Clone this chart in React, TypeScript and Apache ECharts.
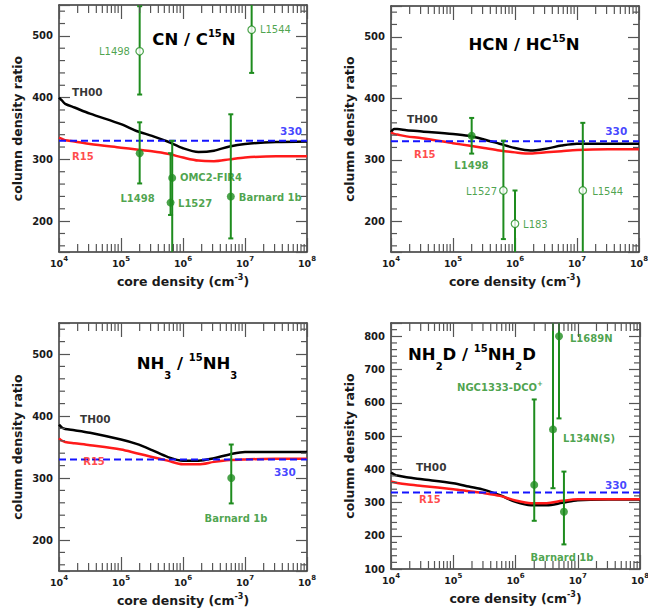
import React, { useEffect, useRef } from "react";
import * as echarts from "echarts";

const FONT = '"DejaVu Sans", "Liberation Sans", sans-serif';
const GREEN = "#1e8c1e";
const RED = "#ff1a1a";
const BLUE = "#1414ff";
const FRAME = "#333333";
const TICK = "#555555";
const TEXT = "#1a1a1a";

// ---- model curves: sample positions in log10(core density / cm^-3) ----
const curveLogN = [4, 4.05, 4.1, 4.25, 4.5, 5, 5.25, 5.5, 5.75, 6, 6.25, 6.5, 6.75, 7, 7.5, 8];

const cnTH00 = [400, 395, 390, 384, 374, 357, 346, 338, 329, 318, 312, 314, 321, 325, 328, 329];
const cnR15 = [335, 333, 331, 329, 325, 319, 316, 313, 309, 303, 298, 297, 300, 303, 305, 305];
const hcnTH00 = [345, 350, 350, 348, 346, 342, 339, 333, 326, 319, 315, 318, 323, 326, 326, 326];
const hcnR15 = [344, 342, 341, 338, 335, 327, 323, 319, 315, 312, 310, 312, 314, 316, 317, 317];
const nh3TH00 = [386, 381, 379, 377, 373, 362, 355, 345, 334, 328, 328, 332, 338, 342, 342, 342];
const nh3R15 = [364, 360, 358, 356, 353, 346, 340, 334, 328, 322, 322, 326, 329, 330, 331, 331];
const nh2dTH00 = [390, 385, 381, 376, 370, 358, 348, 338, 322, 302, 292, 292, 299, 307, 309, 309];
const nh2dR15 = [363, 361, 359, 355, 350, 340, 334, 328, 320, 306, 298, 298, 305, 310, 310, 310];

const refRatio = 330;

// ---- observations ----
const cnDensity = [2e5, 6.7e5, 6.3e5, 5.9e6, 2e5, 1.28e7];
const cnRatio = [310, 270, 230, 240, 475, 510];
const cnLow = [261, 130, 210, 172, 405, 440];
const cnHigh = [360, 330, 310, 373, 548, 600];
const cnOpen = [false, false, false, false, true, true];

const hcnDensity = [2e5, 6.5e5, 1e6, 1.24e7];
const hcnRatio = [339, 250, 196, 250];
const hcnLow = [310, 171, 100, 100];
const hcnHigh = [368, 331, 250, 360];
const hcnOpen = [false, true, true, true];

const nh3Density = [6e6];
const nh3Ratio = [300];
const nh3Low = [259];
const nh3High = [354];
const nh3Open = [false];

const nh2dDensity = [2e6, 4e6, 5e6, 6e6];
const nh2dRatio = [353, 520, 800, 272];
const nh2dLow = [245, 343, 553, 174];
const nh2dHigh = [610, 950, 1000, 393];
const nh2dOpen = [false, false, false, false];

// ---- text annotations (log10 n, ratio) ----
type Note = { t: string; x: number; y: number; a: string; k: string };
const cnNotes: Note[] = [
  { t: "L1498", x: 5.145, y: 474, a: "right", k: "obsN" },
  { t: "L1544", x: 7.24, y: 511, a: "left", k: "obsN" },
  { t: "L1498", x: 5.266, y: 237, a: "center", k: "obsB" },
  { t: "OMC2-FIR4", x: 5.95, y: 270, a: "left", k: "obsB" },
  { t: "L1527", x: 5.92, y: 229, a: "left", k: "obsB" },
  { t: "Barnard 1b", x: 6.9, y: 239, a: "left", k: "obsB" },
  { t: "TH00", x: 4.21, y: 409, a: "left", k: "th" },
  { t: "R15", x: 4.21, y: 304, a: "left", k: "r15" },
  { t: "330", x: 7.92, y: 346, a: "right", k: "ref" },
];
const hcnNotes: Note[] = [
  { t: "L1498", x: 5.298, y: 290, a: "center", k: "obsB" },
  { t: "L1527", x: 5.71, y: 249, a: "right", k: "obsN" },
  { t: "L183", x: 6.13, y: 195, a: "left", k: "obsN" },
  { t: "L1544", x: 7.245, y: 249, a: "left", k: "obsN" },
  { t: "TH00", x: 4.26, y: 366, a: "left", k: "th" },
  { t: "R15", x: 4.37, y: 309, a: "left", k: "r15" },
  { t: "330", x: 7.81, y: 347, a: "right", k: "ref" },
];
const nh3Notes: Note[] = [
  { t: "Barnard 1b", x: 6.855, y: 235, a: "center", k: "obsB" },
  { t: "TH00", x: 4.34, y: 395, a: "left", k: "th" },
  { t: "R15", x: 4.39, y: 327, a: "left", k: "r15" },
  { t: "330", x: 7.82, y: 310, a: "right", k: "ref" },
];
const nh2dNotes: Note[] = [
  { t: "{g|NGC1333-DCO}{q|+}", x: 5.751, y: 647, a: "center", k: "obsB" },
  { t: "L134N(S)", x: 6.763, y: 494, a: "left", k: "obsB" },
  { t: "L1689N", x: 6.875, y: 792, a: "left", k: "obsB" },
  { t: "Barnard 1b", x: 6.747, y: 136, a: "center", k: "obsB" },
  { t: "TH00", x: 4.4, y: 407, a: "left", k: "th" },
  { t: "R15", x: 4.45, y: 308, a: "left", k: "r15" },
  { t: "330", x: 7.79, y: 353, a: "right", k: "ref" },
];

// title pieces: [text, kind] with m = main, p = superscript, b = subscript
const titles: [string, string][][] = [
  [["CN / C", "m"], ["15", "p"], ["N", "m"]],
  [["HCN / HC", "m"], ["15", "p"], ["N", "m"]],
  [["NH", "m"], ["3", "b"], [" / ", "m"], ["15", "p"], ["NH", "m"], ["3", "b"]],
  [["NH", "m"], ["2", "b"], ["D / ", "m"], ["15", "p"], ["NH", "m"], ["2", "b"], ["D", "m"]],
];

const xMajor = [4, 8];
const xMinorFactors = [2, 3, 4, 5, 6, 7, 8, 9];

const panels = [
  { th: cnTH00, r: cnR15, d: cnDensity, v: cnRatio, lo: cnLow, hi: cnHigh, open: cnOpen, notes: cnNotes, yMin: 150, yMax: 550 },
  { th: hcnTH00, r: hcnR15, d: hcnDensity, v: hcnRatio, lo: hcnLow, hi: hcnHigh, open: hcnOpen, notes: hcnNotes, yMin: 150, yMax: 550 },
  { th: nh3TH00, r: nh3R15, d: nh3Density, v: nh3Ratio, lo: nh3Low, hi: nh3High, open: nh3Open, notes: nh3Notes, yMin: 150, yMax: 550 },
  { th: nh2dTH00, r: nh2dR15, d: nh2dDensity, v: nh2dRatio, lo: nh2dLow, hi: nh2dHigh, open: nh2dOpen, notes: nh2dNotes, yMin: 100, yMax: 840 },
];

const GRIDS = [
  { left: 59, top: 5, width: 248, height: 247 },
  { left: 391, top: 6, width: 248, height: 246 },
  { left: 59, top: 323, width: 248, height: 248 },
  { left: 391, top: 323, width: 249, height: 246 },
];
const TITLE_POS = [
  [194, 39],
  [524, 44],
  [187, 363],
  [472, 354],
];

const noteStyle: Record<string, any> = {
  obsB: { color: GREEN, fontWeight: "bold", fontSize: 10 },
  obsN: { color: GREEN, fontWeight: "normal", fontSize: 10 },
  th: { color: "#000", fontWeight: "bold", fontSize: 10.5 },
  r15: { color: RED, fontWeight: "bold", fontSize: 10 },
  ref: { color: BLUE, fontWeight: "bold", fontSize: 10.5 },
};

const TITLE_SIZE: Record<string, number> = { m: 16.5, p: 10, b: 10 };
const TITLE_DY: Record<string, number> = { m: 0, p: -6, b: 12 };

let measureCtx: CanvasRenderingContext2D | null = null;
function measure(text: string, size: number) {
  if (!measureCtx) measureCtx = document.createElement("canvas").getContext("2d");
  if (!measureCtx) return text.length * size * 0.7;
  measureCtx.font = `bold ${size}px "DejaVu Sans"`;
  return measureCtx.measureText(text).width;
}

function buildOption() {
  const grid: any[] = [];
  const xAxis: any[] = [];
  const yAxis: any[] = [];
  const series: any[] = [];
  const graphic: any[] = [];

  const xMinor: number[] = [];
  for (let e = xMajor[0]; e < xMajor[1]; e++) for (const f of xMinorFactors) xMinor.push(e + Math.log10(f));

  const nameRich = {
    m: { fontFamily: FONT, fontWeight: "bold", fontSize: 12.5, color: TEXT, lineHeight: 16 },
    s: { fontFamily: FONT, fontWeight: "bold", fontSize: 8, color: TEXT, lineHeight: 8, verticalAlign: "top" },
  };
  const tickRich = {
    b: { fontFamily: FONT, fontWeight: "bold", fontSize: 9.5, color: TEXT, lineHeight: 16 },
    s: { fontFamily: FONT, fontWeight: "bold", fontSize: 7, color: TEXT, lineHeight: 7, verticalAlign: "top" },
  };

  panels.forEach((p, i) => {
    grid.push({ ...GRIDS[i], containLabel: false, outerBoundsMode: "none", show: false });
    const axLine = { show: true, onZero: false, lineStyle: { color: FRAME, width: 1.5 } };
    const common = { min: 4, max: 8, interval: 1, gridIndex: i, type: "value", splitLine: { show: false } };
    xAxis.push({
      ...common,
      position: "bottom",
      axisLine: axLine,
      axisTick: { show: true, inside: true, length: 14, lineStyle: { color: TICK, width: 1.2 } },
      axisLabel: { margin: 3, formatter: (v: number) => `{b|10}{s|${v}}`, rich: tickRich },
      name: "{m|core density (cm}{s|-3}{m|)}",
      nameLocation: "middle",
      nameGap: 21,
      nameTextStyle: { rich: nameRich },
    });
    xAxis.push({
      ...common,
      position: "top",
      axisLine: axLine,
      axisTick: { show: true, inside: true, length: 14, lineStyle: { color: TICK, width: 1.2 } },
      axisLabel: { show: false },
    });
    const yCommon: any = {
      type: "value",
      gridIndex: i,
      min: p.yMin,
      max: p.yMax,
      splitLine: { show: false },
      axisLine: axLine,
      axisTick: { show: true, inside: true, length: 11, lineStyle: { color: TICK, width: 1.2 } },
    };
    if (p.yMin % 100 === 0) yCommon.interval = 100;
    yAxis.push({
      ...yCommon,
      position: "left",
      axisLabel: {
        margin: 6,
        fontFamily: FONT,
        fontWeight: "bold",
        fontSize: 10,
        color: TEXT,
        formatter: (v: number) => (v % 100 === 0 ? String(v) : ""),
      },
      name: "column density ratio",
      nameLocation: "middle",
      nameGap: 35,
      nameTextStyle: { fontFamily: FONT, fontWeight: "bold", fontSize: 12.5, color: TEXT },
    });
    yAxis.push({ ...yCommon, position: "right", axisLabel: { show: false } });

    const xi = 2 * i;
    const base = { xAxisIndex: xi, yAxisIndex: xi, silent: true, animation: false };

    series.push({
      ...base,
      type: "line",
      data: curveLogN.map((x, k) => [x, p.th[k]]),
      smooth: 0.3,
      symbol: "none",
      lineStyle: { color: "#000", width: 2.5 },
      z: 2,
    });
    series.push({
      ...base,
      type: "line",
      data: curveLogN.map((x, k) => [x, p.r[k]]),
      smooth: 0.3,
      symbol: "none",
      lineStyle: { color: RED, width: 2.5 },
      z: 2,
    });
    series.push({
      ...base,
      type: "line",
      data: [
        [4, refRatio],
        [8, refRatio],
      ],
      symbol: "none",
      lineStyle: { color: BLUE, width: 2, type: [7, 4] },
      z: 2,
    });
    // error bars
    series.push({
      ...base,
      type: "custom",
      clip: true,
      z: 3,
      data: p.d.map((d, k) => [Math.log10(d), p.lo[k], p.hi[k]]),
      encode: { x: 0, y: [1, 2] },
      renderItem: (_params: any, api: any) => {
        const x = api.value(0);
        const a = api.coord([x, api.value(1)]);
        const b = api.coord([x, api.value(2)]);
        const st = { stroke: GREEN, lineWidth: 2 };
        return {
          type: "group",
          children: [
            { type: "line", shape: { x1: a[0], y1: a[1], x2: b[0], y2: b[1] }, style: st },
            { type: "line", shape: { x1: a[0] - 2.5, y1: a[1], x2: a[0] + 2.5, y2: a[1] }, style: st },
            { type: "line", shape: { x1: b[0] - 2.5, y1: b[1], x2: b[0] + 2.5, y2: b[1] }, style: st },
          ],
        };
      },
    });
    series.push({
      ...base,
      type: "scatter",
      z: 4,
      symbol: "circle",
      symbolSize: 8,
      itemStyle: { color: GREEN },
      data: p.d.map((d, k) => [Math.log10(d), p.v[k]]).filter((_, k) => !p.open[k]),
    });
    series.push({
      ...base,
      type: "scatter",
      z: 4,
      symbol: "circle",
      symbolSize: 7.5,
      itemStyle: { color: "#ffffff", borderColor: GREEN, borderWidth: 1.2 },
      data: p.d.map((d, k) => [Math.log10(d), p.v[k]]).filter((_, k) => p.open[k]),
    });
    // minor ticks on x (log decades), bottom and top
    const yMid = (p.yMin + p.yMax) / 2;
    series.push({
      ...base,
      type: "custom",
      z: 6,
      data: xMinor.map((x) => [x, yMid]),
      encode: { x: 0, y: 1 },
      renderItem: (params: any, api: any) => {
        const cs = params.coordSys;
        const pt = api.coord([api.value(0), api.value(1)]);
        const st = { stroke: TICK, lineWidth: 1.2 };
        const bt = cs.y + cs.height;
        return {
          type: "group",
          children: [
            { type: "line", shape: { x1: pt[0], y1: bt, x2: pt[0], y2: bt - 8 }, style: st },
            { type: "line", shape: { x1: pt[0], y1: cs.y, x2: pt[0], y2: cs.y + 8 }, style: st },
          ],
        };
      },
    });
    // minor ticks on y, left and right
    const yMinor: number[] = [];
    for (let v = p.yMin + 20 - (p.yMin % 20); v < p.yMax; v += 20) if (v % 100 !== 0) yMinor.push(v);
    series.push({
      ...base,
      type: "custom",
      z: 6,
      data: yMinor.map((v) => [6, v]),
      encode: { x: 0, y: 1 },
      renderItem: (params: any, api: any) => {
        const cs = params.coordSys;
        const pt = api.coord([api.value(0), api.value(1)]);
        const st = { stroke: TICK, lineWidth: 1.2 };
        const r = cs.x + cs.width;
        return {
          type: "group",
          children: [
            { type: "line", shape: { x1: cs.x, y1: pt[1], x2: cs.x + 6, y2: pt[1] }, style: st },
            { type: "line", shape: { x1: r, y1: pt[1], x2: r - 6, y2: pt[1] }, style: st },
          ],
        };
      },
    });
    // annotations
    series.push({
      ...base,
      type: "scatter",
      z: 7,
      symbolSize: 1,
      itemStyle: { color: "rgba(0,0,0,0)" },
      data: p.notes.map((n) => ({
        value: [n.x, n.y],
        label: {
          show: true,
          position: "inside",
          formatter: n.t,
          align: n.a,
          verticalAlign: "middle",
          fontFamily: FONT,
          textBorderWidth: 0,
          ...noteStyle[n.k],
          rich: {
            g: { fontFamily: FONT, ...noteStyle[n.k], lineHeight: 14 },
            q: { fontFamily: FONT, ...noteStyle[n.k], fontSize: 7, lineHeight: 7, verticalAlign: "top" },
          },
        },
      })),
    });

    // title, laid out piece by piece
    const pieces = titles[i];
    const widths = pieces.map(([t, k]) => measure(t, TITLE_SIZE[k]));
    const total = widths.reduce((s, w) => s + w, 0);
    let cx = TITLE_POS[i][0] - total / 2;
    pieces.forEach(([t, k], j) => {
      graphic.push({
        type: "text",
        x: cx,
        y: TITLE_POS[i][1] + TITLE_DY[k],
        silent: true,
        style: {
          text: t,
          font: `bold ${TITLE_SIZE[k]}px "DejaVu Sans"`,
          fill: "#000",
          align: "left",
          verticalAlign: "middle",
          textAlign: "left",
          textVerticalAlign: "middle",
        },
      });
      cx += widths[j];
    });
  });

  return { animation: false, backgroundColor: "#ffffff", grid, xAxis, yAxis, series, graphic };
}

export default function App() {
  const ref = useRef<HTMLDivElement>(null);
  useEffect(() => {
    const chart = echarts.init(ref.current!, undefined, { renderer: "svg" });
    chart.setOption(buildOption() as any);
    return () => chart.dispose();
  }, []);
  return (
    <div
      ref={ref}
      style={{ position: "fixed", left: 0, top: 0, width: 648, height: 614, background: "#fff" }}
    />
  );
}
